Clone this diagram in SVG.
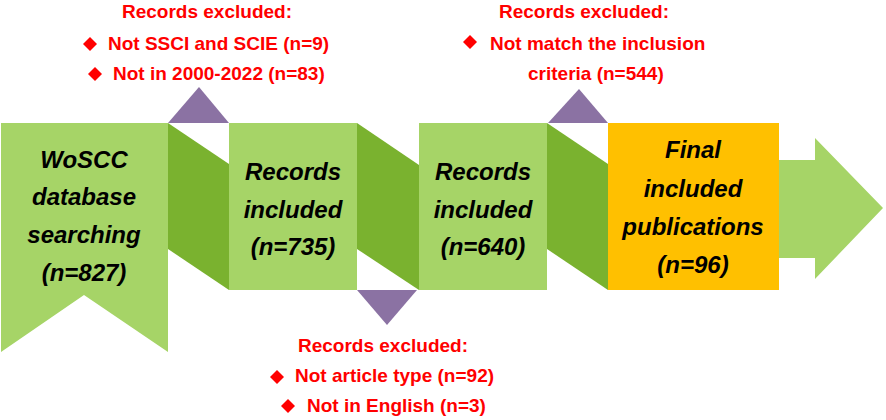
<svg xmlns="http://www.w3.org/2000/svg" width="886" height="420" viewBox="0 0 886 420">
<style>
.lg{fill:#A6D467}
.dg{fill:#7AB22F}
.pu{fill:#8B72A3}
.ye{fill:#FFC000}
.nt{font-family:"Liberation Sans",Arial,sans-serif;font-size:24px;font-weight:bold;font-style:italic;fill:#000;text-anchor:middle}
.rt{font-family:"Liberation Sans",Arial,sans-serif;font-size:19px;font-weight:bold;fill:#FF0000}
.rd{fill:#FF0000}
</style>
<rect width="886" height="420" fill="#fff"/>
<g id="connectors">
<polygon class="dg" points="168,123 229,164 229,290 168,249"/>
<polygon class="dg" points="357,123 419,165 419,290 357,249"/>
<polygon class="dg" points="547,123 608,164 608,290 547,249"/>
<polygon class="pu" points="168,123 229,123 199,87"/>
<polygon class="pu" points="357,290 417,290 387,325"/>
<polygon class="pu" points="548,123 608,123 579,89"/>
<path class="lg" d="M779,160 H815 V138 L883,208 L815,279 V258 H779 Z"/>
</g>
<g id="node-woscc">
<path class="lg" d="M1,123 H168 V352 L84,295 L1,352 Z"/>
<text class="nt" x="84" y="168">WoSCC</text>
<text class="nt" x="84" y="205">database</text>
<text class="nt" x="84" y="243">searching</text>
<text class="nt" x="84" y="281">(n=827)</text>
</g>
<g id="node-records735">
<rect class="lg" x="229" y="123" width="128" height="167"/>
<text class="nt" x="293" y="180">Records</text>
<text class="nt" x="293" y="218">included</text>
<text class="nt" x="293" y="255">(n=735)</text>
</g>
<g id="node-records640">
<rect class="lg" x="419" y="123" width="128" height="167"/>
<text class="nt" x="483" y="180">Records</text>
<text class="nt" x="483" y="218">included</text>
<text class="nt" x="483" y="255">(n=640)</text>
</g>
<g id="node-final">
<rect class="ye" x="608" y="123" width="171" height="167"/>
<text class="nt" x="693" y="158">Final</text>
<text class="nt" x="693" y="197">included</text>
<text class="nt" x="693" y="235">publications</text>
<text class="nt" x="693" y="273">(n=96)</text>
</g>
<g id="excluded-1">
<text class="rt" x="207" y="18" text-anchor="middle">Records excluded:</text>
<polygon class="rd" points="90,37 97,44 90,51 83,44"/>
<text class="rt" x="108" y="50">Not SSCI and SCIE (n=9)</text>
<polygon class="rd" points="95,67 102,74 95,81 88,74"/>
<text class="rt" x="113" y="80">Not in 2000-2022 (n=83)</text>
</g>
<g id="excluded-2">
<text class="rt" x="383" y="352" text-anchor="middle">Records excluded:</text>
<polygon class="rd" points="277,370 284,377 277,384 270,377"/>
<text class="rt" x="295" y="382">Not article type (n=92)</text>
<polygon class="rd" points="288,399 295,406 288,413 281,406"/>
<text class="rt" x="307" y="412">Not in English (n=3)</text>
</g>
<g id="excluded-3">
<text class="rt" x="584" y="18" text-anchor="middle">Records excluded:</text>
<polygon class="rd" points="470,35 477,42 470,49 463,42"/>
<text class="rt" x="490" y="50">Not match the inclusion</text>
<text class="rt" x="528" y="80">criteria (n=544)</text>
</g>
</svg>
